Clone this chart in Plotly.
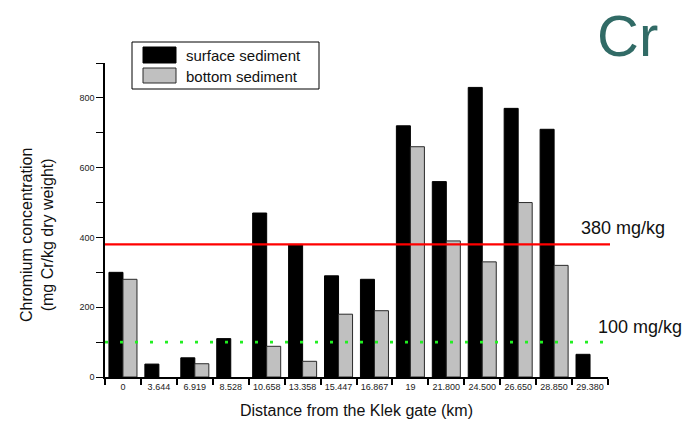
import plotly.graph_objects as go

# Sampling stations (distance from the Klek gate, km)
stations = ["0", "3.644", "6.919", "8.528", "10.658", "13.358", "15.447",
            "16.867", "19", "21.800", "24.500", "26.650", "28.850", "29.380"]

# Chromium concentration, mg Cr/kg dry weight
surface = [300, 37, 55, 110, 470, 380, 290, 280, 720, 560, 830, 770, 710, 65]
bottom = [280, None, 38, None, 88, 45, 180, 190, 660, 390, 330, 500, 320, None]

series_names = ["surface sediment", "bottom sediment"]
series_colors = ["#000000", "#c0c0c0"]

# Reference limits
limits = [380, 100]
limit_labels = ["380 mg/kg", "100 mg/kg"]

W, H = 694, 423
L, R, T, B = 105, 86, 63, 46
PW, PH = W - L - R, H - T - B
FONT = "Arial, Liberation Sans, sans-serif"


def px(x):
    return (x - L) / PW


def py(y):
    return (H - B - y) / PH


fig = go.Figure()
fig.add_trace(go.Bar(x=stations, y=surface, name=series_names[0],
                     marker=dict(color=series_colors[0], line=dict(color="#000000", width=1)),
                     showlegend=False))
fig.add_trace(go.Bar(x=stations, y=bottom, name=series_names[1],
                     marker=dict(color=series_colors[1], line=dict(color="#2a2a2a", width=1)),
                     showlegend=False))

shapes = [
    # upper limit (solid red)
    dict(type="line", xref="paper", yref="y", x0=0, x1=px(610),
         y0=limits[0], y1=limits[0], line=dict(color="#ff0000", width=2.2)),
    # lower limit (dotted green)
    dict(type="line", xref="paper", yref="y", x0=0, x1=px(606),
         y0=limits[1], y1=limits[1], line=dict(color="#22ee22", width=2.6, dash="3px,12px")),
    # legend box and swatches
    dict(type="rect", xref="paper", yref="paper", x0=px(132), x1=px(319),
         y0=py(89), y1=py(42), line=dict(color="#000000", width=1), fillcolor="white"),
    dict(type="rect", xref="paper", yref="paper", x0=px(143), x1=px(176),
         y0=py(63), y1=py(47), line=dict(color="#000000", width=1), fillcolor=series_colors[0]),
    dict(type="rect", xref="paper", yref="paper", x0=px(143), x1=px(176),
         y0=py(83), y1=py(68), line=dict(color="#2a2a2a", width=1), fillcolor=series_colors[1]),
]

annotations = [
    dict(text="Cr", x=px(627), y=py(35), font=dict(size=58, color="#316b66", family=FONT)),
    dict(text=limit_labels[0], x=px(623), y=py(228), font=dict(size=18, color="#111111", family=FONT)),
    dict(text=limit_labels[1], x=px(640), y=py(327), font=dict(size=18, color="#111111", family=FONT)),
    dict(text="Chromium concentration<br>(mg Cr/kg dry weight)", x=px(37), y=py(235),
         textangle=-90, font=dict(size=16, color="#111111", family=FONT)),
    dict(text="Distance from the Klek gate (km)", x=px(356), y=py(410),
         font=dict(size=16, color="#111111", family=FONT)),
    dict(text=series_names[0], x=px(184), y=py(55), xanchor="left",
         font=dict(size=15, color="#111111", family=FONT)),
    dict(text=series_names[1], x=px(184), y=py(76), xanchor="left",
         font=dict(size=15, color="#111111", family=FONT)),
]
for a in annotations:
    a.setdefault("xref", "paper")
    a.setdefault("yref", "paper")
    a.setdefault("xanchor", "center")
    a.setdefault("yanchor", "middle")
    a["showarrow"] = False

fig.update_layout(
    width=W, height=H, autosize=False,
    margin=dict(l=L, r=R, t=T, b=B, pad=0),
    paper_bgcolor="white", plot_bgcolor="white",
    barmode="group", bargap=0.22, bargroupgap=0,
    font=dict(family=FONT, color="#111111"),
    shapes=shapes, annotations=annotations,
    xaxis=dict(type="category", showline=True, linecolor="#000000", linewidth=1.5,
               ticks="outside", tickson="boundaries", ticklen=6, tickwidth=1.5,
               tickcolor="#000000", showgrid=False, zeroline=False, tickangle=0,
               tickfont=dict(size=9, family=FONT, color="#222222")),
    yaxis=dict(range=[0, 900], showline=True, linecolor="#000000", linewidth=1.5,
               ticks="outside", ticklen=7, tickwidth=1.2, tickcolor="#000000",
               dtick=200, tick0=0, showgrid=False, zeroline=False,
               minor=dict(dtick=100, ticks="outside", ticklen=7, tickcolor="#000000", showgrid=False),
               tickfont=dict(size=9, family=FONT, color="#222222")),
)

fig.write_html("out.html")
